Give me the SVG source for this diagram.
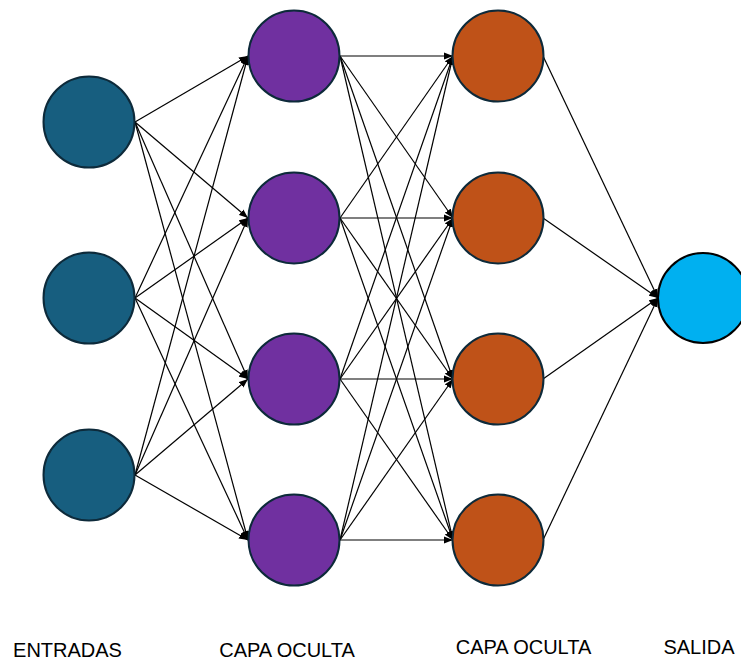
<svg xmlns="http://www.w3.org/2000/svg" width="741" height="661" viewBox="0 0 741 661">
<defs>
<marker id="arr" markerUnits="userSpaceOnUse" markerWidth="10" markerHeight="8" refX="9" refY="4" orient="auto">
<path d="M0,0.5 L9,4 L0,7.5 Z" fill="#000"/>
</marker>
<style>
.e{stroke:#000;stroke-width:1.2;fill:none;marker-end:url(#arr)}
.n{stroke:#0d2a3a;stroke-width:2}
.in{fill:#175e7f}
.h1{fill:#7030a0}
.h2{fill:#bf5218}
.out{fill:#00b0f0;stroke:#000}
.t{font-family:"Liberation Sans",Arial,sans-serif;font-size:20px;fill:#000;text-anchor:middle}
</style>
</defs>
<rect width="741" height="661" fill="#fff"/>
<g id="connectors">
<line class="e" x1="135" y1="122" x2="248" y2="56"/>
<line class="e" x1="135" y1="122" x2="248" y2="218"/>
<line class="e" x1="135" y1="122" x2="248" y2="379"/>
<line class="e" x1="135" y1="122" x2="248" y2="540"/>
<line class="e" x1="135" y1="298" x2="248" y2="56"/>
<line class="e" x1="135" y1="298" x2="248" y2="218"/>
<line class="e" x1="135" y1="298" x2="248" y2="379"/>
<line class="e" x1="135" y1="298" x2="248" y2="540"/>
<line class="e" x1="135" y1="475" x2="248" y2="56"/>
<line class="e" x1="135" y1="475" x2="248" y2="218"/>
<line class="e" x1="135" y1="475" x2="248" y2="379"/>
<line class="e" x1="135" y1="475" x2="248" y2="540"/>
<line class="e" x1="340" y1="56" x2="453" y2="56"/>
<line class="e" x1="340" y1="56" x2="453" y2="218"/>
<line class="e" x1="340" y1="56" x2="453" y2="379"/>
<line class="e" x1="340" y1="56" x2="453" y2="540"/>
<line class="e" x1="340" y1="218" x2="453" y2="56"/>
<line class="e" x1="340" y1="218" x2="453" y2="218"/>
<line class="e" x1="340" y1="218" x2="453" y2="379"/>
<line class="e" x1="340" y1="218" x2="453" y2="540"/>
<line class="e" x1="340" y1="379" x2="453" y2="56"/>
<line class="e" x1="340" y1="379" x2="453" y2="218"/>
<line class="e" x1="340" y1="379" x2="453" y2="379"/>
<line class="e" x1="340" y1="379" x2="453" y2="540"/>
<line class="e" x1="340" y1="540" x2="453" y2="56"/>
<line class="e" x1="340" y1="540" x2="453" y2="218"/>
<line class="e" x1="340" y1="540" x2="453" y2="379"/>
<line class="e" x1="340" y1="540" x2="453" y2="540"/>
<line class="e" x1="543" y1="56" x2="658" y2="298"/>
<line class="e" x1="543" y1="218" x2="658" y2="298"/>
<line class="e" x1="543" y1="379" x2="658" y2="298"/>
<line class="e" x1="543" y1="540" x2="658" y2="298"/>
</g>
<g id="in1"><circle class="n in" cx="89" cy="122" r="45.5"/></g>
<g id="in2"><circle class="n in" cx="89" cy="298" r="45.5"/></g>
<g id="in3"><circle class="n in" cx="89" cy="475" r="45.5"/></g>
<g id="h1a"><circle class="n h1" cx="294" cy="56" r="45.5"/></g>
<g id="h1b"><circle class="n h1" cx="294" cy="218" r="45.5"/></g>
<g id="h1c"><circle class="n h1" cx="294" cy="379" r="45.5"/></g>
<g id="h1d"><circle class="n h1" cx="294" cy="540" r="45.5"/></g>
<g id="h2a"><circle class="n h2" cx="498" cy="56" r="45.5"/></g>
<g id="h2b"><circle class="n h2" cx="498" cy="218" r="45.5"/></g>
<g id="h2c"><circle class="n h2" cx="498" cy="379" r="45.5"/></g>
<g id="h2d"><circle class="n h2" cx="498" cy="540" r="45.5"/></g>
<g id="out"><circle class="n out" cx="703" cy="298" r="45"/></g>
<g id="labels">
<text class="t" x="67.5" y="656.5">ENTRADAS</text>
<text class="t" x="287" y="656.5">CAPA OCULTA</text>
<text class="t" x="523.5" y="653.5">CAPA OCULTA</text>
<text class="t" x="699" y="653.5">SALIDA</text>
</g>
</svg>
